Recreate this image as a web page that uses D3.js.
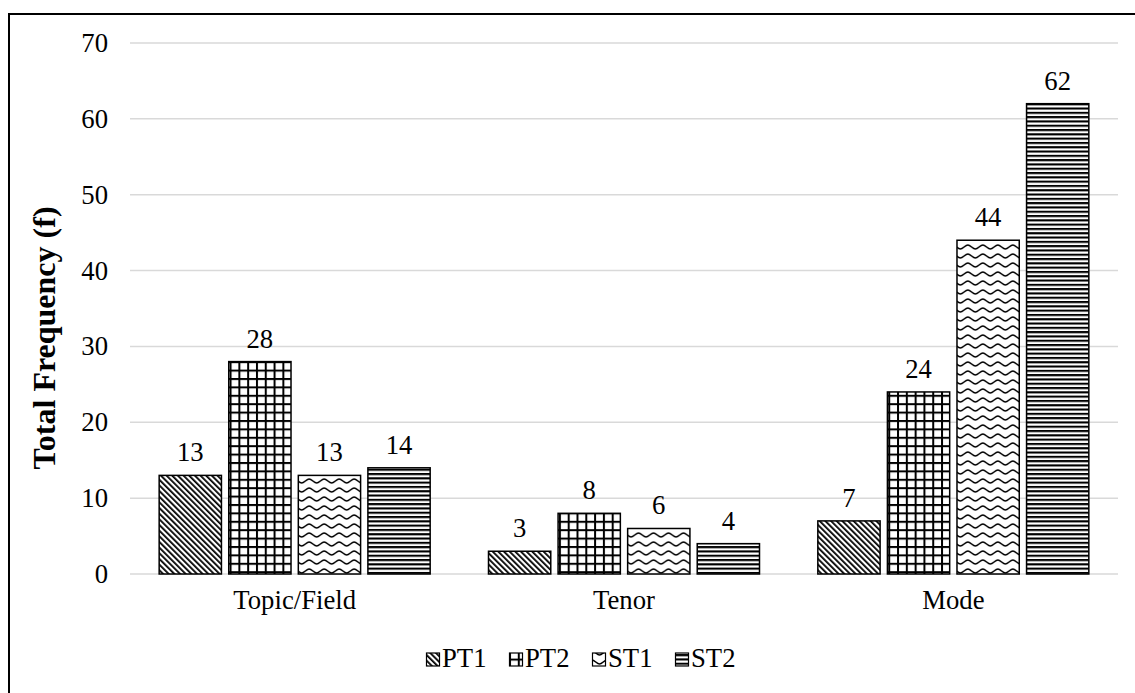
<!DOCTYPE html>
<html>
<head>
<meta charset="utf-8">
<script src="https://cdn.jsdelivr.net/npm/d3@7/dist/d3.min.js"></script>
<style>
  html, body { margin: 0; padding: 0; background: #fff; }
  svg { display: block; }
  text { font-family: "Liberation Serif", "Times New Roman", serif; fill: #000; }
</style>
</head>
<body>
<svg id="chart" width="1135" height="693"></svg>
<script>
// Frequency of register variables per text group
const categories = ["Topic/Field", "Tenor", "Mode"];
const seriesNames = ["PT1", "PT2", "ST1", "ST2"];
const PT1 = [13, 3, 7];
const PT2 = [28, 8, 24];
const ST1 = [13, 6, 44];
const ST2 = [14, 4, 62];
const yTicks = [0, 10, 20, 30, 40, 50, 60, 70];

const seriesValues = [PT1, PT2, ST1, ST2];

const W = 1135, H = 693;
const margin = { left: 130, right: 17, top: 43, bottom: 119 };
const svg = d3.select("#chart");

// Fill patterns for each series
const defs = svg.append("defs");

const pDiag = defs.append("pattern").attr("id", "pat-PT1")
  .attr("patternUnits", "userSpaceOnUse").attr("width", 4).attr("height", 4)
  .attr("patternTransform", "rotate(-45)");
pDiag.append("rect").attr("width", 4).attr("height", 4).attr("fill", "#fff");
pDiag.append("rect").attr("width", 1.8).attr("height", 4).attr("fill", "#000");

const pGrid = defs.append("pattern").attr("id", "pat-PT2")
  .attr("patternUnits", "userSpaceOnUse").attr("width", 8.8).attr("height", 8.4);
pGrid.append("rect").attr("width", 8.8).attr("height", 8.4).attr("fill", "#fff");
pGrid.append("rect").attr("width", 2).attr("height", 8.4).attr("fill", "#000");
pGrid.append("rect").attr("width", 8.8).attr("height", 2).attr("fill", "#000");

const pWave = defs.append("pattern").attr("id", "pat-ST1")
  .attr("patternUnits", "userSpaceOnUse").attr("width", 15).attr("height", 9);
pWave.append("rect").attr("width", 15).attr("height", 9).attr("fill", "#fff");
pWave.append("path")
  .attr("d", "M0,2 C2.5,2 5,6 7.5,6 C10,6 12.5,2 15,2")
  .attr("fill", "none").attr("stroke", "#000").attr("stroke-width", 1.6);

const pHorz = defs.append("pattern").attr("id", "pat-ST2")
  .attr("patternUnits", "userSpaceOnUse").attr("width", 8).attr("height", 4.3);
pHorz.append("rect").attr("width", 8).attr("height", 4.3).attr("fill", "#fff");
pHorz.append("rect").attr("width", 8).attr("height", 2.1).attr("fill", "#000");

// Outer frame
svg.append("rect")
  .attr("x", 9).attr("y", 14).attr("width", 1140).attr("height", 700)
  .attr("fill", "none").attr("stroke", "#000").attr("stroke-width", 2);

const x0 = d3.scaleBand().domain(categories)
  .range([margin.left, W - margin.right]).paddingInner(0).paddingOuter(0);
const y = d3.scaleLinear().domain([0, 70]).range([H - margin.bottom, margin.top]);

const groupW = 271;
const x1 = d3.scaleBand().domain(seriesNames)
  .range([0, groupW]).paddingInner(0.105).paddingOuter(0);

// Horizontal gridlines
svg.append("g").selectAll("line").data(yTicks).join("line")
  .attr("x1", margin.left).attr("x2", W - margin.right)
  .attr("y1", d => y(d)).attr("y2", d => y(d))
  .attr("stroke", "#d9d9d9").attr("stroke-width", 1.5);

// Y axis tick labels
const yAxis = d3.axisLeft(y).tickValues(yTicks).tickSize(0).tickPadding(22);
const gy = svg.append("g").attr("transform", `translate(${margin.left},0)`).call(yAxis);
gy.select(".domain").remove();
gy.selectAll("text").style("font-family", "Liberation Serif").style("font-size", "26.7px");

// Category labels
const xAxis = d3.axisBottom(x0).tickSize(0).tickPadding(16);
const gx = svg.append("g").attr("transform", `translate(0,${y(0)})`).call(xAxis);
gx.select(".domain").remove();
gx.selectAll("text").style("font-family", "Liberation Serif").style("font-size", "26.7px");

// Bars and value labels
const groups = svg.append("g").selectAll("g").data(categories).join("g")
  .attr("transform", c => `translate(${x0(c) + (x0.bandwidth() - groupW) / 2},0)`);

groups.each(function (c, ci) {
  const g = d3.select(this);
  seriesNames.forEach((s, si) => {
    const v = seriesValues[si][ci];
    g.append("rect")
      .attr("x", x1(s)).attr("width", x1.bandwidth())
      .attr("y", y(v)).attr("height", y(0) - y(v))
      .attr("fill", `url(#pat-${s})`)
      .attr("stroke", "#000").attr("stroke-width", 1.5);
    g.append("text")
      .attr("x", x1(s) + x1.bandwidth() / 2)
      .attr("y", y(v) - 14)
      .attr("text-anchor", "middle")
      .style("font-size", "26.7px")
      .text(v);
  });
});

// Y axis title
svg.append("text")
  .attr("transform", "translate(55,338) rotate(-90)")
  .attr("text-anchor", "middle")
  .style("font-size", "32px").style("font-weight", "bold")
  .text("Total Frequency (f)");

// Legend
const legend = svg.append("g").attr("transform", "translate(426,667)");
seriesNames.forEach((s, i) => {
  const item = legend.append("g").attr("transform", `translate(${i * 83},0)`);
  item.append("rect").attr("x", 0.5).attr("y", -14).attr("width", 13).attr("height", 13)
    .attr("fill", `url(#pat-${s})`).attr("stroke", "#000").attr("stroke-width", 1.2);
  item.append("text").attr("x", 16).attr("y", 0)
    .style("font-size", "26.7px").text(s);
});
</script>
</body>
</html>
